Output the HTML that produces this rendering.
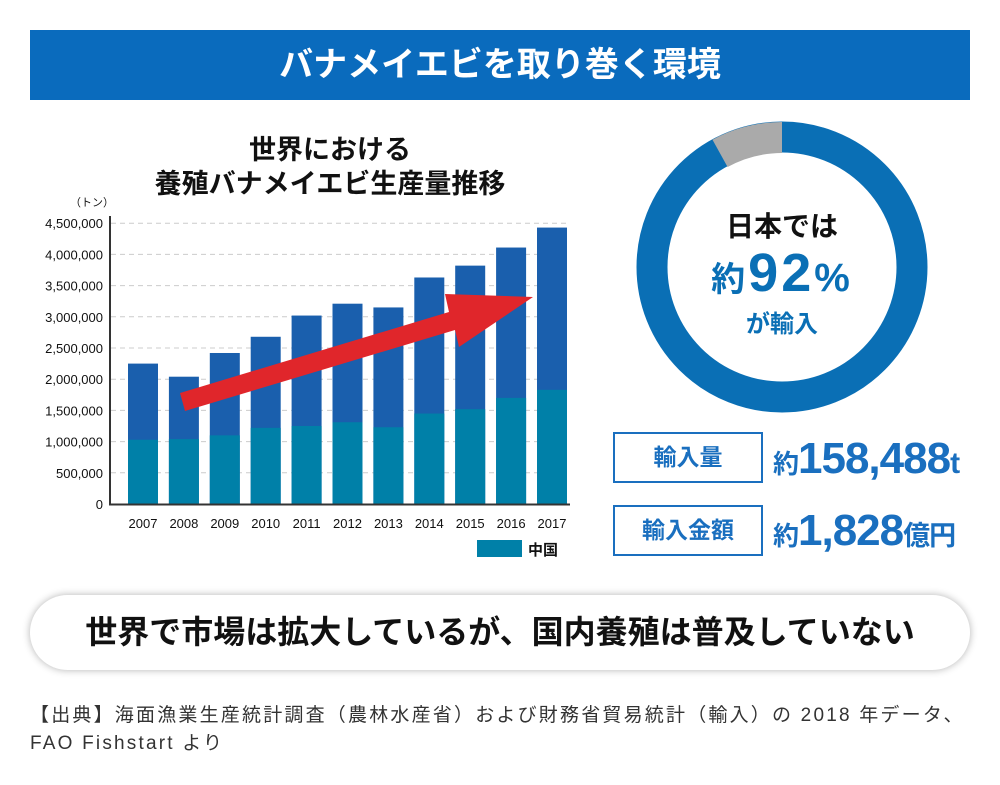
<!DOCTYPE html>
<html><head><meta charset="utf-8"><style>
body{margin:0;width:1000px;height:785px;background:#fff;font-family:"Liberation Sans","Noto Sans CJK JP",sans-serif;position:relative;overflow:hidden}
.a{position:absolute;white-space:nowrap}
</style></head><body>
<div class="a" style="left:30px;top:30px;width:940px;height:70px;background:#0a6bbd;color:#fff;font-size:34px;font-weight:bold;text-align:center;line-height:70px">バナメイエビを取り巻く環境</div>
<div class="a" style="left:110px;top:133px;width:440px;text-align:center;font-size:27px;font-weight:bold;line-height:34px;color:#111">世界における<br>養殖バナメイエビ生産量推移</div>
<svg class="a" style="left:0;top:0" width="1000" height="785">
<g font-family="Liberation Sans, sans-serif" font-size="13" fill="#111" text-anchor="end">
<text x="92" y="206" font-size="11" text-anchor="middle">（トン）</text>
</g>
<g id="grid" stroke="#ccc" stroke-dasharray="5,4" stroke-width="1"></g>
<g id="bars"></g>
<line x1="110" y1="216" x2="110" y2="505" stroke="#333" stroke-width="2"/>
<line x1="109" y1="504.5" x2="570" y2="504.5" stroke="#333" stroke-width="2"/>
<g id="lab" font-family="Liberation Sans, sans-serif" font-size="13" fill="#111"></g>
<polygon points="180,393 449,312 445,294 533,297 459,347 455,330 185,411" fill="#e0262b"/>
<rect x="477" y="540" width="45" height="17" fill="#0080a8"/>
<text x="528" y="555" font-size="15" font-weight="bold" fill="#111" font-family="Liberation Sans, Noto Sans CJK JP, sans-serif">中国</text>
<circle cx="782" cy="267" r="130" fill="none" stroke="#0a6fb5" stroke-width="31"/>
<path d="M782,122 A145,145 0 0 0 712.5,139.7 L727.6,167 A114,114 0 0 1 782,153 Z" fill="#aaa"/>
</svg>
<div class="a" style="left:682px;top:205px;width:200px;text-align:center;font-size:28px;font-weight:bold;color:#111">日本では</div>
<div class="a" style="left:672px;top:242px;width:220px;text-align:center;font-weight:bold;color:#0a6fb5;letter-spacing:3px"><span style="font-size:34px">約</span><span style="font-size:54px">92</span><span style="font-size:40px">%</span></div>
<div class="a" style="left:682px;top:304px;width:200px;text-align:center;font-size:24px;font-weight:bold;color:#0a6fb5">が輸入</div>
<div class="a" style="left:613px;top:432px;width:146px;height:47px;border:2px solid #1a6fbf;text-align:center;line-height:47px;font-size:23px;font-weight:bold;color:#1a6fbf">輸入量</div>
<div class="a" style="left:613px;top:505px;width:146px;height:47px;border:2px solid #1a6fbf;text-align:center;line-height:47px;font-size:23px;font-weight:bold;color:#1a6fbf">輸入金額</div>
<div class="a" style="left:773px;top:434px;font-weight:bold;color:#1a6fbf;letter-spacing:-1px"><span style="font-size:26px">約</span><span style="font-size:44px">158,488</span><span style="font-size:30px">t</span></div>
<div class="a" style="left:773px;top:506px;font-weight:bold;color:#1a6fbf;letter-spacing:-1px"><span style="font-size:26px">約</span><span style="font-size:44px">1,828</span><span style="font-size:27px">億円</span></div>
<div class="a" style="left:30px;top:595px;width:940px;height:75px;border-radius:38px;background:#fff;box-shadow:0 0 8px rgba(0,0,0,0.3);text-align:center;line-height:75px;font-size:32px;font-weight:bold;color:#111">世界で市場は拡大しているが、国内養殖は普及していない</div>
<div class="a" style="left:30px;top:702px;font-size:19px;color:#333;line-height:28px;letter-spacing:2.2px">【出典】海面漁業生産統計調査（農林水産省）および財務省貿易統計（輸入）の 2018 年データ、<br>FAO Fishstart より</div>
<script>
var tot=[2.25,2.04,2.42,2.68,3.02,3.21,3.15,3.63,3.82,4.11,4.43],cn=[1.03,1.04,1.10,1.22,1.25,1.31,1.23,1.45,1.52,1.70,1.83];
var ns="http://www.w3.org/2000/svg",g=document.getElementById('grid'),b=document.getElementById('bars'),l=document.getElementById('lab');
function y(v){return 504-v*62.4}
function el(p,t,a,tx){var e=document.createElementNS(ns,t);for(var k in a)e.setAttribute(k,a[k]);if(tx)e.textContent=tx;p.appendChild(e);}
var labs=["0","500,000","1,000,000","1,500,000","2,000,000","2,500,000","3,000,000","3,500,000","4,000,000","4,500,000"];
for(var i=0;i<10;i++){var yy=y(i*0.5);if(i>0)el(g,'line',{x1:111,x2:568,y1:yy,y2:yy});el(l,'text',{x:103,y:yy+5,'text-anchor':'end'},labs[i]);}
for(var i=0;i<11;i++){var x=128+i*40.9;el(b,'rect',{x:x,y:y(tot[i]),width:30,height:y(0)-y(tot[i]),fill:'#1a5fad'});el(b,'rect',{x:x,y:y(cn[i]),width:30,height:y(0)-y(cn[i]),fill:'#0080a8'});el(l,'text',{x:x+15,y:528,'text-anchor':'middle'},String(2007+i));}
</script>
</body></html>
